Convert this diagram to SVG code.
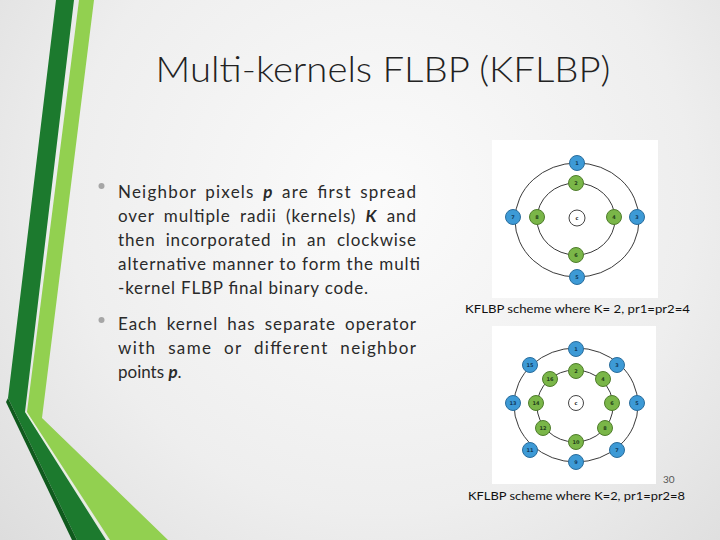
<svg xmlns="http://www.w3.org/2000/svg" width="720" height="540" viewBox="0 0 720 540">
<defs>
<radialGradient id="bg" cx="380" cy="200" r="520" gradientUnits="userSpaceOnUse">
<stop offset="0" stop-color="#fbfbfb"/>
<stop offset="0.6" stop-color="#eeeeee"/>
<stop offset="1" stop-color="#dcdcdc"/>
</radialGradient>
<style>
.body{font-family:Lato,"Open Sans","Liberation Sans",sans-serif;font-size:17px;fill:#2a2a2a}
.cap{font-family:Lato,"Open Sans","Liberation Sans",sans-serif;font-size:12px;fill:#111}
.ring{fill:none;stroke:#3a3a3a;stroke-width:1}
.b{fill:#3d9ad6;stroke:#2a6d9c;stroke-width:1}
.g{fill:#7ab648;stroke:#4f7d2c;stroke-width:1}
.w{fill:#ffffff;stroke:#444;stroke-width:1}
.nl{font-family:"DejaVu Sans",sans-serif;font-size:5px;font-weight:bold;text-anchor:middle;dominant-baseline:central}
.bt{fill:#123a5c}
.gt{fill:#23401a}
.ct{fill:#222}
.em{font-weight:bold;font-style:italic}
</style>
</defs>
<rect width="720" height="540" fill="url(#bg)"/>
<!-- decorative stripes -->
<polygon points="56,0 74,0 25,412 106,540 77,540 8,398" fill="#1c7a2e"/>
<polygon points="8,398 77,540 72,540 6,402" fill="#0f5a1d"/>
<polygon points="79,0 94,0 42,418 168,540 110,540 27,412" fill="#92d050"/>
<line x1="26" y1="412" x2="108" y2="540" stroke="#e9f7dc" stroke-width="1"/>

<text x="383" y="82" text-anchor="middle" font-family="Lato,'Open Sans','Liberation Sans',sans-serif" font-weight="300" font-size="36" fill="#222" textLength="455" lengthAdjust="spacingAndGlyphs">Multi-kernels FLBP (KFLBP)</text>

<circle cx="101.5" cy="186" r="3" fill="#a6a6a6"/>
<circle cx="101.5" cy="320" r="3" fill="#a6a6a6"/>
<g class="body">
<text x="118" y="198" word-spacing="3" textLength="298" lengthAdjust="spacing">Neighbor pixels <tspan class="em">p</tspan> are first spread</text>
<text x="118" y="222" word-spacing="4" textLength="298" lengthAdjust="spacing">over multiple radii (kernels) <tspan class="em">K</tspan> and</text>
<text x="118" y="246" word-spacing="5" textLength="298" lengthAdjust="spacing">then incorporated in an clockwise</text>
<text x="118" y="270" textLength="302" lengthAdjust="spacing">alternative manner to form the multi</text>
<text x="118" y="294" textLength="250" lengthAdjust="spacing">-kernel FLBP final binary code.</text>
<text x="118" y="330" word-spacing="4" textLength="298" lengthAdjust="spacing">Each kernel has separate operator</text>
<text x="118" y="354" word-spacing="6" textLength="298" lengthAdjust="spacing">with same or different neighbor</text>
<text x="118" y="378">points <tspan class="em">p</tspan>.</text>
</g>

<!-- figure panels -->
<rect x="492" y="140" width="166" height="158" fill="#ffffff"/>
<rect x="492" y="326" width="164" height="158" fill="#ffffff"/>

<g id="connectors">
<ellipse class="ring" cx="577" cy="220" rx="62" ry="57"/>
<ellipse class="ring" cx="576" cy="219" rx="39" ry="36"/>
<ellipse class="ring" cx="576" cy="405" rx="62" ry="57"/>
<ellipse class="ring" cx="575" cy="406" rx="38" ry="36"/>
</g>

<!-- figure 1 nodes -->
<g id="f1-c"><circle class="w" cx="577" cy="218" r="8"/><text class="nl ct" x="577" y="218">c</text></g>
<g id="f1-n1"><circle class="b" cx="577" cy="163" r="7.5"/><text class="nl bt" x="577" y="163">1</text></g>
<g id="f1-n2"><circle class="g" cx="576" cy="183" r="7.5"/><text class="nl gt" x="576" y="183">2</text></g>
<g id="f1-n3"><circle class="b" cx="637" cy="217" r="7.5"/><text class="nl bt" x="637" y="217">3</text></g>
<g id="f1-n4"><circle class="g" cx="614" cy="217" r="7.5"/><text class="nl gt" x="614" y="217">4</text></g>
<g id="f1-n5"><circle class="b" cx="577" cy="277" r="7.5"/><text class="nl bt" x="577" y="277">5</text></g>
<g id="f1-n6"><circle class="g" cx="576" cy="255" r="7.5"/><text class="nl gt" x="576" y="255">6</text></g>
<g id="f1-n7"><circle class="b" cx="513" cy="217" r="7.5"/><text class="nl bt" x="513" y="217">7</text></g>
<g id="f1-n8"><circle class="g" cx="537" cy="217" r="7.5"/><text class="nl gt" x="537" y="217">8</text></g>

<!-- figure 2 nodes -->
<g id="f2-c"><circle class="w" cx="576" cy="403" r="7.5"/><text class="nl ct" x="576" y="403">c</text></g>
<g id="f2-n1"><circle class="b" cx="576" cy="349" r="7.5"/><text class="nl bt" x="576" y="349">1</text></g>
<g id="f2-n2"><circle class="g" cx="576" cy="371" r="7.5"/><text class="nl gt" x="576" y="371">2</text></g>
<g id="f2-n3"><circle class="b" cx="617" cy="365" r="7.5"/><text class="nl bt" x="617" y="365">3</text></g>
<g id="f2-n4"><circle class="g" cx="603" cy="379" r="7.5"/><text class="nl gt" x="603" y="379">4</text></g>
<g id="f2-n5"><circle class="b" cx="637" cy="403" r="7.5"/><text class="nl bt" x="637" y="403">5</text></g>
<g id="f2-n6"><circle class="g" cx="612" cy="403" r="7.5"/><text class="nl gt" x="612" y="403">6</text></g>
<g id="f2-n7"><circle class="b" cx="617" cy="450" r="7.5"/><text class="nl bt" x="617" y="450">7</text></g>
<g id="f2-n8"><circle class="g" cx="605" cy="428" r="7.5"/><text class="nl gt" x="605" y="428">8</text></g>
<g id="f2-n9"><circle class="b" cx="576" cy="462" r="7.5"/><text class="nl bt" x="576" y="462">9</text></g>
<g id="f2-n10"><circle class="g" cx="576" cy="442" r="7.5"/><text class="nl gt" x="576" y="442">10</text></g>
<g id="f2-n11"><circle class="b" cx="530" cy="450" r="7.5"/><text class="nl bt" x="530" y="450">11</text></g>
<g id="f2-n12"><circle class="g" cx="543" cy="428" r="7.5"/><text class="nl gt" x="543" y="428">12</text></g>
<g id="f2-n13"><circle class="b" cx="513" cy="403" r="7.5"/><text class="nl bt" x="513" y="403">13</text></g>
<g id="f2-n14"><circle class="g" cx="536" cy="403" r="7.5"/><text class="nl gt" x="536" y="403">14</text></g>
<g id="f2-n15"><circle class="b" cx="530" cy="365" r="7.5"/><text class="nl bt" x="530" y="365">15</text></g>
<g id="f2-n16"><circle class="g" cx="550" cy="379" r="7.5"/><text class="nl gt" x="550" y="379">16</text></g>

<text class="cap" x="465" y="313" textLength="225" lengthAdjust="spacingAndGlyphs">KFLBP scheme where K= 2, pr1=pr2=4</text>
<text class="cap" x="468" y="500" textLength="217" lengthAdjust="spacingAndGlyphs">KFLBP scheme where K=2, pr1=pr2=8</text>
<text x="663" y="483" font-family="Lato,'Liberation Sans',sans-serif" font-size="10" fill="#555">30</text>
</svg>
